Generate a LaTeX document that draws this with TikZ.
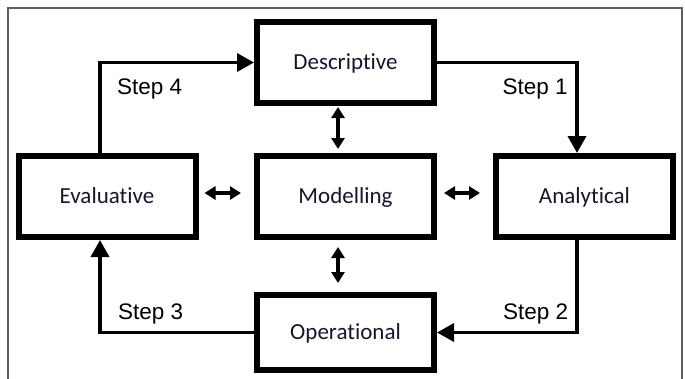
\documentclass[tikz,border=0pt]{standalone}
\usepackage{fontspec}
\setmainfont{Liberation Sans}
\newfontfamily\boxfont[Ligatures=NoCommon]{Carlito}
\usetikzlibrary{arrows.meta}
\definecolor{labelcol}{RGB}{22,22,45}
\definecolor{framecol}{RGB}{95,95,95}
\begin{document}
\begin{tikzpicture}[x=1pt,y=-1pt,
  stage/.style={draw, line width=6pt, minimum width=177pt, minimum height=81pt,
    inner sep=0pt, font=\boxfont\fontsize{23}{27}\selectfont, text=labelcol,
    text height=14.6pt, text depth=0pt},
  flow/.style={line width=3.5pt, -{Triangle[length=17pt,width=18pt]}},
  dbl/.style={line width=3.5pt, {Triangle[length=11pt,width=13pt]}-{Triangle[length=11pt,width=13pt]}},
  steplab/.style={inner sep=0pt, font=\fontsize{22.5}{26}\selectfont, anchor=base west},
  frame/.style={draw=framecol, line width=1.5pt}]
\useasboundingbox (0,0) rectangle (685,378);
\fill[white] (0,0) rectangle (685,378);
\draw[frame] (8,382) -- (8,8) -- (682,8) -- (682,382);

\node[stage] (Desc) at (345.5,62.5) {Descriptive};
\node[stage] (Eval) at (107,196.5) {Evaluative};
\node[stage] (Mod) at (345.5,196.5) {Modelling};
\node[stage] (Anal) at (584.5,196.5) {Analytical};
\node[stage, minimum height=75pt] (Oper) at (345.5,332.5) {Operational};

\coordinate (lx) at (100,0);
\coordinate (rx) at (577,0);
\coordinate (mx) at (338,0);
\coordinate (my) at (0,193);

\draw[flow] (Eval.north -| lx) -- (lx |- Desc.west) -- (Desc.west);
\draw[flow] (Desc.east) -- (rx |- Desc.east) -- (rx |- Anal.north);
\draw[flow] (rx |- Anal.south) -- (rx |- Oper.east) -- (Oper.east);
\draw[flow] (Oper.west) -- (lx |- Oper.west) -- (lx |- Eval.south);

\draw[dbl, shorten <=1pt, shorten >=4pt] (mx |- Desc.south) -- (mx |- Mod.north);
\draw[dbl, shorten <=7pt, shorten >=9pt] (mx |- Mod.south) -- (mx |- Oper.north);
\draw[dbl, shorten <=6pt, shorten >=13pt] (Eval.east |- my) -- (Mod.west |- my);
\draw[dbl, shorten <=7pt, shorten >=13pt] (Mod.east |- my) -- (Anal.west |- my);

\node[steplab] (s4) at (117,94) {Step 4};
\node[steplab] (s1) at (502.5,94) {Step 1};
\node[steplab] (s2) at (503,319) {Step 2};
\node[steplab] (s3) at (118,319) {Step 3};
\end{tikzpicture}
\end{document}
